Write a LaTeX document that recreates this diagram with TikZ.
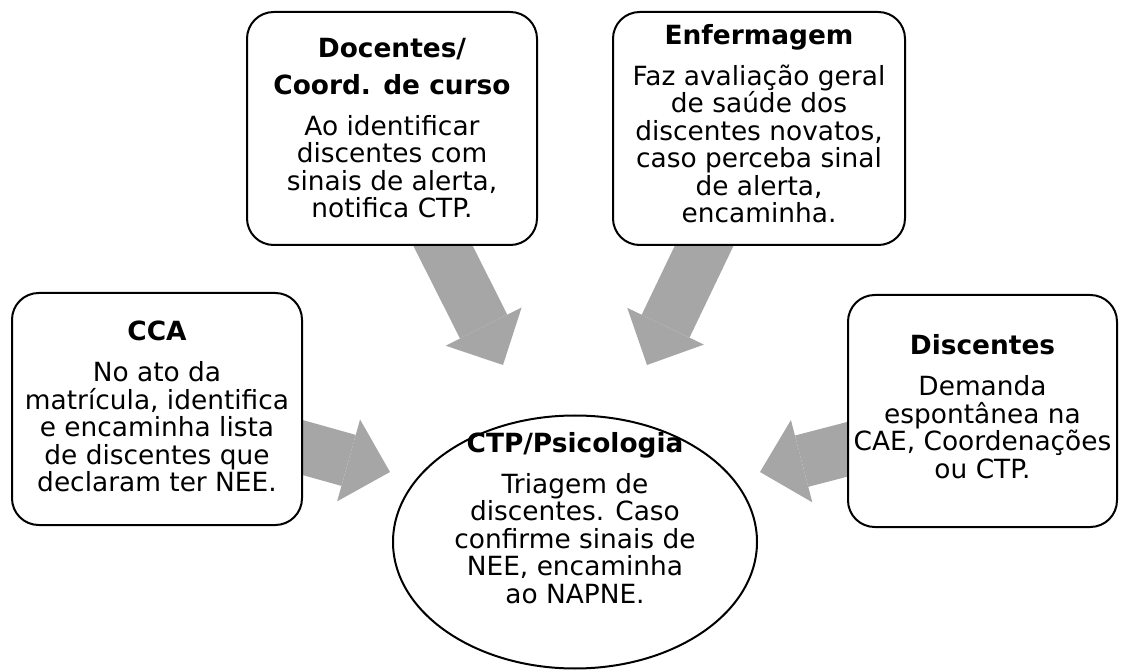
\documentclass[tikz,border=0pt]{standalone}
\usepackage{fontspec}
\setmainfont{DejaVu Sans}
\usetikzlibrary{arrows.meta,backgrounds,shapes.geometric}
\definecolor{arrowgray}{HTML}{A6A6A6}
\begin{document}
\begin{tikzpicture}[x=0.75pt,y=-0.75pt,
  box/.style={draw=black, line width=1.5pt, rounded corners=20pt, fill=white, inner sep=0pt},
  txt/.style={font=\fontsize{19.8}{20.6}\selectfont, align=center, inner sep=0pt},
  flow/.style={draw=arrowgray, line width=39.75pt, -{Triangle[length=32.25pt,width=63.75pt,line width=0pt]}}
]
\useasboundingbox (0,0) rectangle (1129,670);
% boxes
\node[box, minimum width=217.5pt, minimum height=174.75pt] (doc) at (392,128.5) {};
\node[txt] (doctext) at (392,128) {\textbf{Docentes/}\\[7.15pt]\textbf{Coord. de curso}\\[10.15pt]Ao identificar\\discentes com\\sinais de alerta,\\notifica CTP.};
\node[box, minimum width=219pt, minimum height=174.75pt] (enf) at (759,128.5) {};
\node[txt] (enftext) at (759,123.5) {\textbf{Enfermagem}\\[10.15pt]Faz avaliação geral\\de saúde dos\\discentes novatos,\\caso perceba sinal\\de alerta,\\encaminha.};
\node[box, minimum width=217.5pt, minimum height=174pt] (cca) at (157,409) {};
\node[txt] (ccatext) at (157,406.5) {\textbf{CCA}\\[10.15pt]No ato da\\matrícula, identifica\\e encaminha lista\\de discentes que\\declaram ter NEE.};
\node[box, minimum width=201.75pt, minimum height=174pt] (dis) at (982.5,411) {};
\node[txt] (distext) at (982.5,406.5) {\textbf{Discentes}\\[10.15pt]Demanda\\espontânea na\\CAE, Coordenações\\ou CTP.};
% central ellipse
\node[draw=black, line width=1.5pt, ellipse, fill=white, minimum width=273pt, minimum height=189.75pt, inner sep=0pt] (ctp) at (575,542) {};
\node[txt] (ctptext) at (575,518) {\textbf{CTP/Psicologia}\\[10.15pt]Triagem de\\discentes. Caso\\confirme sinais de\\NEE, encaminha\\ao NAPNE.};
% arrow end points
\coordinate (docS) at (431,222);
\coordinate (docT) at (503,365);
\coordinate (enfS) at (716,221);
\coordinate (enfT) at (647,365);
\coordinate (ccaS) at (290,444);
\coordinate (ccaT) at (390,472);
\coordinate (disS) at (860,446);
\coordinate (disT) at (760,472);
\begin{scope}[on background layer]
\draw[flow] (docS) -- (docT);
\draw[flow] (enfS) -- (enfT);
\draw[flow] (ccaS) -- (ccaT);
\draw[flow] (disS) -- (disT);
\end{scope}
\end{tikzpicture}
\end{document}
